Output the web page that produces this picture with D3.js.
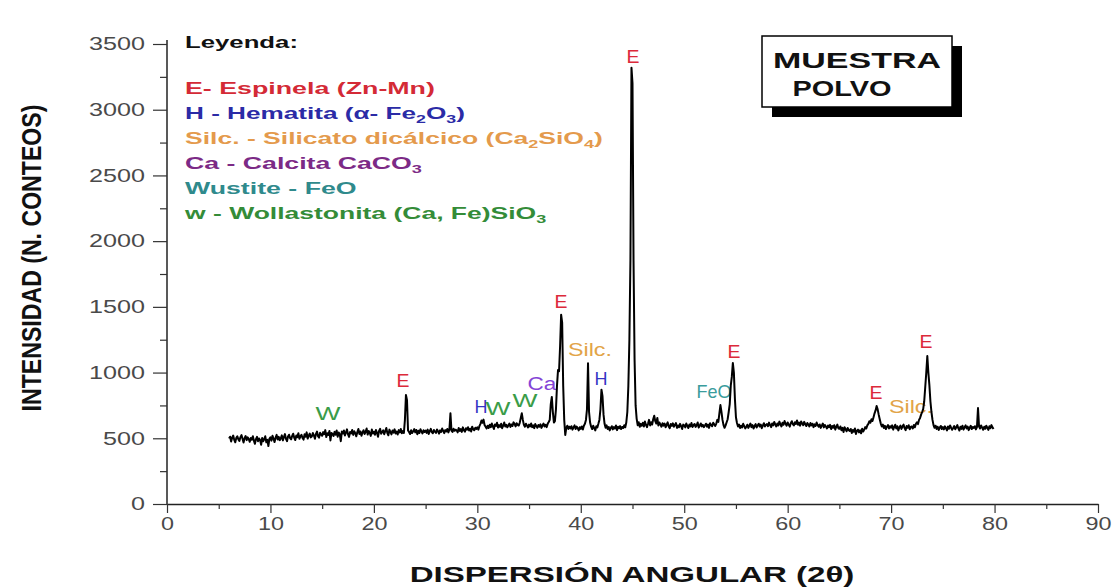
<!DOCTYPE html>
<html>
<head>
<meta charset="utf-8">
<script src="https://cdn.jsdelivr.net/npm/d3@7/dist/d3.min.js"></script>
<style>
    body { margin: 0; background: #fff; }
    svg text { font-family: "Liberation Sans", Arial, sans-serif; }
</style>
</head>
<body>
<script>
// diffractogram scan: start angle and step (2θ, degrees)
var scanStart = 6.0,
    scanStep = 0.1
// counts, one row per degree (x.0 ... x.9)
var counts = [
    498, 512, 476, 505, 521, 488, 470, 503, 515, 492, // 6
    480, 509, 524, 497, 468, 501, 517, 486, 507, 495, // 7
    473, 502, 489, 516, 481, 458, 494, 511, 478, 499, // 8
    486, 450, 503, 477, 492, 515, 470, 488, 441, 496, // 9
    508, 482, 519, 497, 471, 505, 526, 490, 511, 486, // 10
    499, 522, 484, 510, 532, 495, 478, 513, 527, 501, // 11
    492, 518, 535, 504, 487, 521, 509, 538, 496, 515, // 12
    527, 503, 490, 531, 512, 545, 498, 520, 536, 507, // 13
    514, 540, 522, 497, 533, 551, 516, 505, 542, 528, // 14
    519, 547, 531, 562, 509, 538, 525, 556, 484, 541, // 15
    533, 518, 549, 527, 560, 512, 544, 530, 478, 551, // 16
    536, 559, 521, 543, 568, 530, 511, 548, 537, 563, // 17
    526, 554, 539, 515, 547, 571, 533, 552, 520, 545, // 18
    561, 532, 549, 574, 528, 555, 541, 518, 566, 537, // 19
    550, 527, 563, 541, 512, 556, 572, 535, 548, 560, // 20
    531, 554, 578, 540, 523, 566, 547, 530, 559, 543, // 21
    568, 536, 551, 529, 562, 545, 571, 538, 555, 541, // 22
    640, 830, 790, 560, 548, 532, 561, 540, 553, 570, // 23
    545, 563, 531, 558, 540, 569, 552, 537, 561, 548, // 24
    559, 541, 566, 533, 555, 572, 547, 538, 563, 550, // 25
    541, 567, 553, 535, 560, 548, 574, 556, 539, 562, // 26
    552, 571, 545, 566, 690, 558, 548, 573, 557, 565, // 27
    561, 545, 578, 556, 570, 549, 583, 562, 551, 576, // 28
    566, 584, 559, 573, 552, 588, 569, 561, 580, 571, // 29
    583, 566, 592, 610, 635, 618, 642, 601, 588, 575, // 30
    596, 578, 603, 585, 612, 590, 571, 605, 594, 618, // 31
    582, 600, 587, 611, 577, 596, 620, 589, 603, 584, // 32
    598, 612, 586, 605, 593, 621, 608, 590, 615, 602, // 33
    597, 618, 655, 690, 640, 602, 588, 611, 595, 583, // 34
    604, 590, 612, 585, 598, 577, 608, 593, 580, 601, // 35
    588, 606, 579, 597, 612, 590, 603, 585, 610, 624, // 36
    640, 760, 815, 700, 620, 630, 720, 900, 1020, 1010, // 37
    1200, 1440, 1380, 900, 640, 525, 580, 596, 571, 588, // 38
    575, 592, 566, 583, 598, 570, 589, 577, 560, 584, // 39
    572, 590, 567, 595, 610, 640, 720, 1070, 700, 620, // 40
    588, 570, 596, 578, 560, 592, 583, 610, 640, 720, // 41
    870, 820, 680, 610, 580, 598, 571, 586, 560, 579, // 42
    592, 568, 585, 574, 597, 562, 588, 576, 593, 570, // 43
    586, 578, 599, 584, 620, 700, 900, 1250, 1860, 3320, // 44
    3200, 1850, 1100, 750, 650, 600, 622, 587, 610, 596, // 45
    618, 590, 627, 603, 585, 611, 640, 598, 622, 605, // 46
    645, 672, 630, 612, 655, 598, 620, 604, 588, 615, // 47
    596, 612, 584, 603, 621, 590, 577, 608, 595, 614, // 48
    588, 602, 616, 579, 597, 585, 610, 592, 571, 604, // 49
    599, 583, 612, 594, 578, 605, 590, 617, 586, 600, // 50
    609, 587, 598, 620, 581, 596, 613, 590, 602, 585, // 51
    597, 611, 588, 604, 579, 615, 600, 592, 618, 606, // 52
    594, 612, 640, 625, 690, 753, 700, 640, 600, 580, // 53
    598, 622, 645, 700, 760, 900, 967, 1073, 1000, 800, // 54
    660, 616, 590, 604, 578, 596, 583, 610, 592, 575, // 55
    588, 603, 579, 597, 612, 585, 600, 574, 593, 608, // 56
    582, 598, 611, 589, 604, 577, 596, 615, 590, 601, // 57
    608, 592, 619, 600, 585, 613, 598, 624, 605, 590, // 58
    612, 598, 627, 606, 590, 618, 603, 631, 611, 596, // 59
    620, 604, 589, 615, 630, 608, 597, 622, 610, 635, // 60
    603, 619, 596, 628, 612, 600, 625, 607, 593, 616, // 61
    604, 590, 617, 598, 611, 585, 606, 594, 620, 600, // 62
    588, 605, 579, 596, 612, 583, 601, 590, 575, 597, // 63
    585, 602, 570, 593, 581, 599, 566, 588, 604, 576, // 64
    572, 590, 561, 579, 548, 584, 569, 553, 578, 562, // 65
    556, 571, 540, 563, 550, 575, 532, 558, 566, 545, // 66
    560, 538, 572, 551, 566, 585, 574, 598, 610, 630, // 67
    618, 645, 632, 660, 690, 712, 745, 720, 680, 645, // 68
    612, 590, 604, 578, 595, 570, 588, 601, 575, 592, // 69
    580, 598, 566, 587, 603, 574, 592, 560, 583, 596, // 70
    571, 589, 604, 578, 562, 593, 580, 599, 568, 586, // 71
    590, 575, 601, 584, 610, 622, 608, 640, 655, 680, // 72
    700, 722, 780, 890, 1000, 1126, 1000, 905, 780, 700, // 73
    640, 600, 580, 596, 571, 588, 563, 582, 594, 570, // 74
    585, 568, 591, 576, 560, 589, 572, 597, 580, 565, // 75
    578, 593, 569, 584, 600, 575, 559, 588, 571, 596, // 76
    566, 583, 598, 574, 589, 562, 580, 595, 570, 586, // 77
    579, 592, 568, 585, 730, 590, 574, 598, 581, 565, // 78
    588, 572, 596, 580, 564, 591, 577, 600, 583, 570  // 79
]

var xTicks = [0, 10, 20, 30, 40, 50, 60, 70, 80, 90]
var xMinor = [5, 15, 25, 35, 45, 55, 65, 75, 85]
var yTicks = [0, 500, 1000, 1500, 2000, 2500, 3000, 3500]
var yMinor = [250, 750, 1250, 1750, 2250, 2750, 3250]

var xTitle = "DISPERSIÓN ANGULAR (2θ)"
var yTitle = "INTENSIDAD (N. CONTEOS)"
var sampleTitle = ["MUESTRA", "POLVO"]

// legend lines, "_n" marks a subscript digit
var legendTitle = "Leyenda:"
var legendPhase = ["E", "H", "Silc", "Ca", "Wus", "w"]
var legendText = [
    "E- Espinela (Zn-Mn)",
    "H - Hematita (α- Fe_2O_3)",
    "Silc. - Silicato dicálcico (Ca_2SiO_4)",
    "Ca - Calcita CaCO_3",
    "Wustite - FeO",
    "w - Wollastonita (Ca, Fe)SiO_3"
]

// peak labels: text, 2θ, counts (label baseline), phase
var peakText = ["W", "E", "H", "W", "W", "Ca", "E", "Silc.", "H", "E", "FeO", "E", "E", "Silc.", "E"]
var peakAngle = [15.56, 22.81, 30.35, 32.0, 34.6, 36.25, 38.09, 40.89, 41.95, 45.05, 52.88, 54.81, 68.54, 71.92, 73.37]
var peakCount = [639, 890, 692, 677, 738, 867, 1491, 1126, 905, 3355, 806, 1111, 799, 692, 1187]
var peakPhase = ["w", "E", "H", "w", "w", "Ca", "E", "Silc", "H", "E", "Wus", "E", "E", "Silc", "E"]

// styles
var legendColor = { E: "#d42a36", H: "#2b2ba6", Silc: "#e49a4c", Ca: "#7c2a86", Wus: "#2f8a8c", w: "#348c38" }
var peakColor = { E: "#dc2a3a", H: "#3434c4", Silc: "#e2a448", Ca: "#8444d6", Wus: "#3a9c9c", w: "#3a9c48" }
var peakWidth = { E: 13, H: 13, W: 25, Ca: 30, "Silc.": 44, FeO: 35 }
var legendWidth = [250, 280, 418, 237, 172, 363]

var width = 1114,
    height = 587

var svg = d3.select("body").append("svg")
    .attr("width", width)
    .attr("height", height)

var x = d3.scaleLinear().domain([0, 90]).range([167, 1098])
var y = d3.scaleLinear().domain([0, 3500]).range([504, 44])

// stretch a text horizontally so it spans w pixels
function stretch(t, w) {
    var bw = t.node().getBBox().width
    return bw ? w / bw : 1
}

function addText(g, str, px, py, anchor, w, rot) {
    var t = g.append("text").attr("text-anchor", anchor)
    var parts = str.split(/_(\d)/)
    parts.forEach(function (p, i) {
        if (i % 2 == 1) {
            t.append("tspan").attr("dy", 4).attr("font-size", "0.68em").text(p)
        } else if (p.length) {
            var s = t.append("tspan").text(p)
            if (i > 0) s.attr("dy", -4)
        }
    })
    var k = stretch(t, w)
    t.attr("transform", "translate(" + px + "," + py + ")" + (rot ? " rotate(" + rot + ")" : "") + " scale(" + k + ",1)")
    return t
}

// peak labels sit under the trace
var labels = svg.append("g").attr("font-size", 18)
peakText.forEach(function (s, i) {
    addText(labels, s, x(peakAngle[i]), y(peakCount[i]), "middle", peakWidth[s])
        .attr("fill", peakColor[peakPhase[i]])
})

// axes
var yAxis = svg.append("g").attr("transform", "translate(" + x(0) + ",0)")
    .call(d3.axisLeft(y).tickValues(yTicks).tickSize(14).tickSizeOuter(0).tickFormat(d3.format("d")))
var yMin = svg.append("g").attr("transform", "translate(" + x(0) + ",0)")
    .call(d3.axisLeft(y).tickValues(yMinor).tickSize(7).tickFormat(""))
yMin.select(".domain").remove()
yAxis.select(".domain").attr("d", "M0," + y(0) + "V" + y(3530))

var xAxis = svg.append("g").attr("transform", "translate(0," + y(0) + ")")
    .call(d3.axisBottom(x).tickValues(xTicks).tickSize(9).tickSizeOuter(0).tickPadding(4))
var xMin = svg.append("g").attr("transform", "translate(0," + y(0) + ")")
    .call(d3.axisBottom(x).tickValues(xMinor).tickSize(5).tickFormat(""))
xMin.select(".domain").remove()

svg.selectAll(".domain").attr("stroke", "#222").attr("stroke-width", 1.5)
svg.selectAll(".tick line").attr("stroke", "#333").attr("stroke-width", 1.2)
yAxis.selectAll("text")
    .attr("font-family", "'Liberation Sans', Arial, sans-serif")
    .attr("font-size", 18).attr("fill", "#4a4a4a")
    .attr("x", -22 / 1.4)
    .attr("transform", "scale(1.4,1)")
xAxis.selectAll("text")
    .attr("font-family", "'Liberation Sans', Arial, sans-serif")
    .attr("font-size", 18).attr("fill", "#4a4a4a")
    .attr("transform", "scale(1.3,1)")

// diffractogram trace
var line = d3.line()
    .x(function (d, i) { return x(scanStart + i * scanStep) })
    .y(function (d) { return y(d) })
svg.append("path")
    .datum(counts)
    .attr("fill", "none")
    .attr("stroke", "#000")
    .attr("stroke-width", 2)
    .attr("stroke-linejoin", "round")
    .attr("d", line)

// axis titles
var titleFont = "'Liberation Sans Narrow', 'DejaVu Sans Condensed', 'Liberation Sans', sans-serif"
var xt = svg.append("g").attr("font-family", titleFont).attr("font-weight", "bold")
    .attr("font-size", 22).attr("fill", "#111")
addText(xt, xTitle, 632, 582, "middle", 445)
var yt = svg.append("g").attr("font-family", titleFont).attr("font-weight", "bold")
    .attr("font-size", 28).attr("fill", "#111")
addText(yt, yTitle, 41, 258, "middle", 307, -90)

// legend
var legend = svg.append("g").attr("font-weight", "bold").attr("font-size", 16.5)
addText(legend, legendTitle, 185, 48, "start", 113).attr("fill", "#111")
legendText.forEach(function (s, i) {
    addText(legend, s, 185, 94 + i * 25, "start", legendWidth[i])
        .attr("fill", legendColor[legendPhase[i]])
})

// sample box with drop shadow
var box = svg.append("g")
box.append("rect").attr("x", 772).attr("y", 46).attr("width", 190).attr("height", 71).attr("fill", "#000")
box.append("rect").attr("x", 762).attr("y", 36).attr("width", 190).attr("height", 71)
    .attr("fill", "#fff").attr("stroke", "#000").attr("stroke-width", 1.5)
var boxText = box.append("g").attr("font-weight", "bold").attr("font-size", 22.5).attr("fill", "#111")
addText(boxText, sampleTitle[0], 857, 68, "middle", 168)
addText(boxText, sampleTitle[1], 842, 96, "middle", 99)
</script>
</body>
</html>
